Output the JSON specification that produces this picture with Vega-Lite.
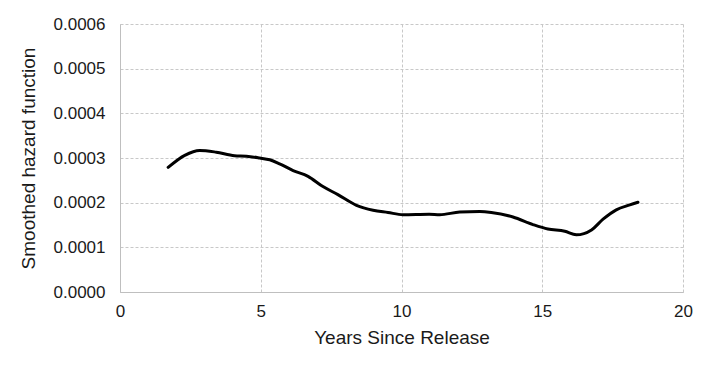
{
  "$schema": "https://vega.github.io/schema/vega-lite/v6.json",
  "autosize": "none",
  "width": 563,
  "height": 268,
  "padding": {"left": 120, "top": 24, "right": 26, "bottom": 74},
  "background": "white",
  "config": {
    "view": {"stroke": null},
    "font": "Liberation Sans",
    "axis": {
      "labelFont": "Liberation Sans",
      "titleFont": "Liberation Sans",
      "labelFontSize": 17,
      "titleFontSize": 19,
      "titleFontWeight": "normal",
      "labelColor": "#1a1a1a",
      "titleColor": "#1a1a1a",
      "labelFlush": false,
      "domainColor": "#BFBFBF",
      "domainWidth": 1,
      "ticks": false,
      "gridColor": "#C8C8C8",
      "gridDash": [3, 2],
      "gridWidth": 1
    }
  },
  "data": {
    "values": [
      {"t": 1.71, "h": 0.000279},
      {"t": 2.30, "h": 0.000306},
      {"t": 2.83, "h": 0.000317},
      {"t": 3.42, "h": 0.000313},
      {"t": 4.07, "h": 0.000305},
      {"t": 4.49, "h": 0.000304},
      {"t": 4.96, "h": 0.000300},
      {"t": 5.32, "h": 0.000296},
      {"t": 5.67, "h": 0.000287},
      {"t": 6.15, "h": 0.000272},
      {"t": 6.68, "h": 0.000259},
      {"t": 7.21, "h": 0.000236},
      {"t": 7.74, "h": 0.000218},
      {"t": 8.40, "h": 0.000194},
      {"t": 8.99, "h": 0.000183},
      {"t": 9.52, "h": 0.000178},
      {"t": 10.05, "h": 0.000173},
      {"t": 10.98, "h": 0.000174},
      {"t": 11.36, "h": 0.000173},
      {"t": 12.07, "h": 0.000179},
      {"t": 12.78, "h": 0.000180},
      {"t": 13.19, "h": 0.000178},
      {"t": 13.96, "h": 0.000168},
      {"t": 14.67, "h": 0.000151},
      {"t": 15.20, "h": 0.000141},
      {"t": 15.80, "h": 0.000136},
      {"t": 16.21, "h": 0.000128},
      {"t": 16.75, "h": 0.000139},
      {"t": 17.16, "h": 0.000163},
      {"t": 17.63, "h": 0.000184},
      {"t": 18.11, "h": 0.000195},
      {"t": 18.40, "h": 0.000201}
    ]
  },
  "mark": {"type": "line", "color": "black", "strokeWidth": 3, "interpolate": "monotone", "strokeCap": "round"},
  "encoding": {
    "x": {
      "field": "t",
      "type": "quantitative",
      "scale": {"domain": [0, 20], "nice": false},
      "axis": {"title": "Years Since Release", "values": [0, 5, 10, 15, 20], "labelPadding": 11, "titlePadding": 9}
    },
    "y": {
      "field": "h",
      "type": "quantitative",
      "scale": {"domain": [0, 0.0006], "nice": false},
      "axis": {"title": "Smoothed hazard function", "values": [0, 0.0001, 0.0002, 0.0003, 0.0004, 0.0005, 0.0006], "format": ".4f", "labelPadding": 15, "titlePadding": 15}
    }
  }
}
